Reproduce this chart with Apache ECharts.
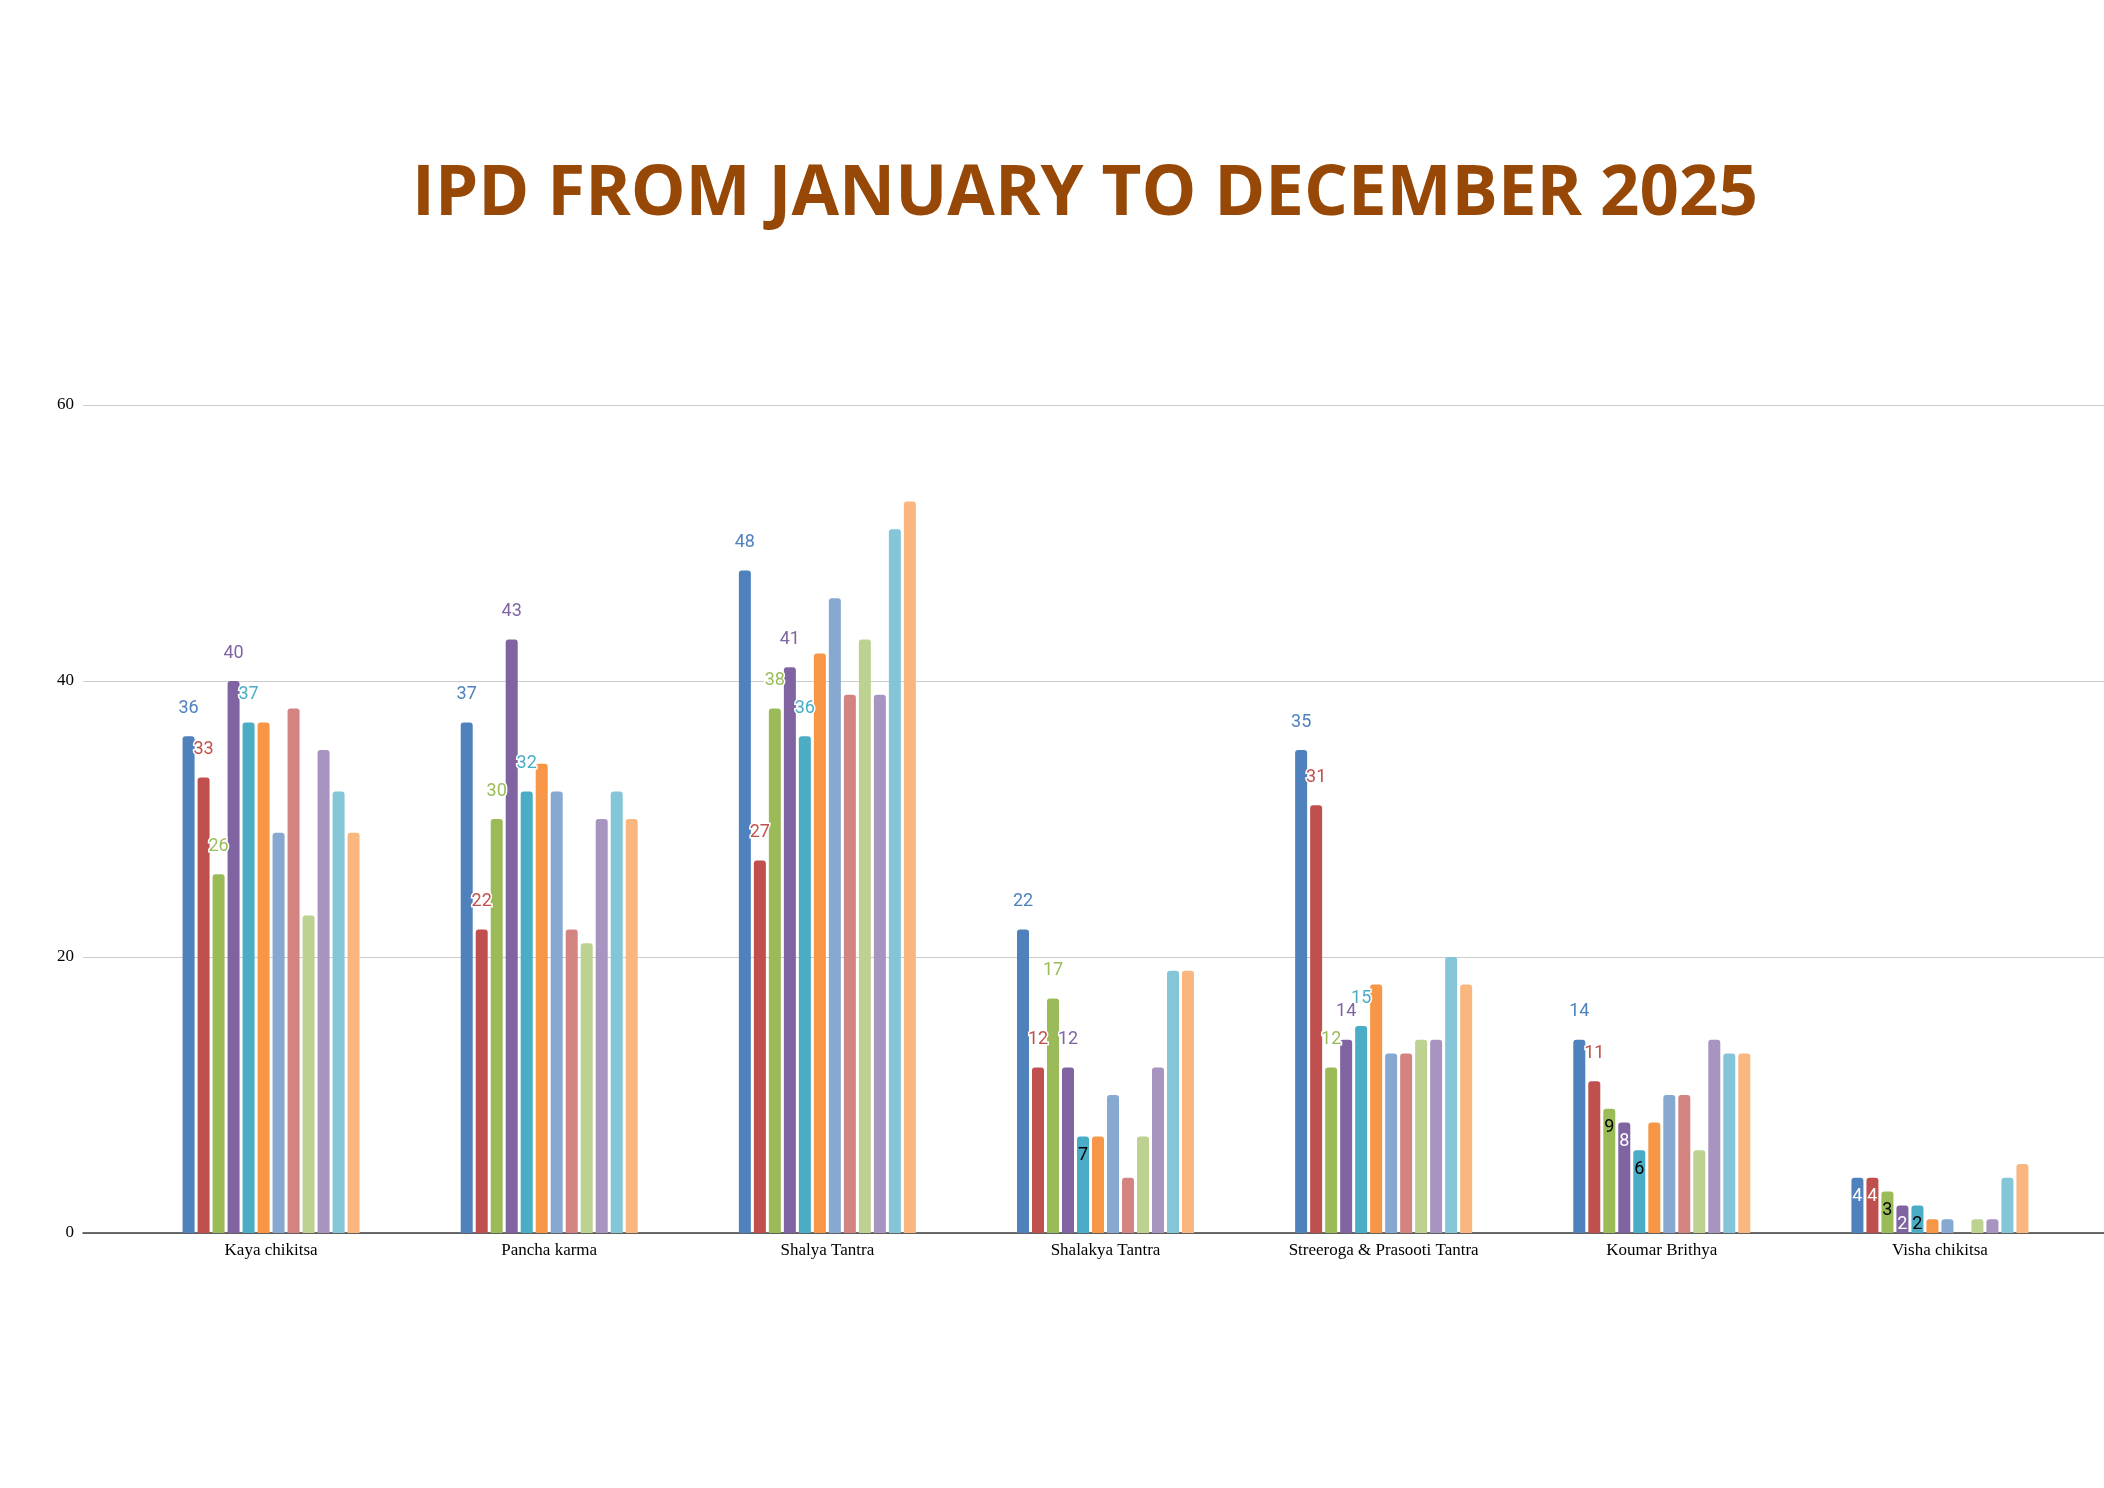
<!DOCTYPE html>
<html>
<head>
<meta charset="utf-8">
<title>IPD 2025</title>
<script src="https://cdn.jsdelivr.net/npm/echarts@6/dist/echarts.min.js"></script>
<style>
  html, body { margin: 0; padding: 0; background: #fff; }
  #chart { width: 2104px; height: 1488px; }
</style>
</head>
<body>
<div id="chart"></div>
<script>
var departments = ["Kaya chikitsa", "Pancha karma", "Shalya Tantra", "Shalakya Tantra",
  "Streeroga & Prasooti Tantra", "Koumar Brithya", "Visha chikitsa"];
var months = ["January", "February", "March", "April", "May", "June",
  "July", "August", "September", "October", "November", "December"];

// patients per department, January..December
var kayaChikitsa = [36, 33, 26, 40, 37, 37, 29, 38, 23, 35, 32, 29];
var panchaKarma = [37, 22, 30, 43, 32, 34, 32, 22, 21, 30, 32, 30];
var shalyaTantra = [48, 27, 38, 41, 36, 42, 46, 39, 43, 39, 51, 53];
var shalakyaTantra = [22, 12, 17, 12, 7, 7, 10, 4, 7, 12, 19, 19];
var streeroga = [35, 31, 12, 14, 15, 18, 13, 13, 14, 14, 20, 18];
var koumarBrithya = [14, 11, 9, 8, 6, 8, 10, 10, 6, 14, 13, 13];
var vishaChikitsa = [4, 4, 3, 2, 2, 1, 1, 0, 1, 1, 4, 5];

var yTicks = [0, 20, 40, 60];

var colors = ["#4F81BD", "#C0504D", "#9BBB59", "#8064A2", "#4BACC6", "#F79646",
  "#86A8D1", "#D38481", "#BDD190", "#A794C0", "#84C5D7", "#F9B77F"];
var insideColors = ["#ffffff", "#ffffff", "#000000", "#ffffff", "#000000"]; //小数值标签放在柱内
var labeledCount = 5; //只有前5个月显示数值

var rows = [kayaChikitsa, panchaKarma, shalyaTantra, shalakyaTantra, streeroga, koumarBrithya, vishaChikitsa];

var chart = echarts.init(document.getElementById("chart"));

// one series per month, taken from each department row
function buildSeries () {
  var list = [];
  for (var m = 0; m < months.length; m++) {
    var data = [];
    for (var d = 0; d < rows.length; d++) {
      var v = rows[d][m];
      if (m < labeledCount && v < 10) {
        data.push({
          value: v,
          label: { position: "insideTop", distance: 10, color: insideColors[m], textBorderWidth: 0 }
        });
      } else {
        data.push(v);
      }
    }
    list.push({
      name: months[m],
      type: "bar",
      xAxisIndex: 1,
      yAxisIndex: 1,
      barWidth: 12,
      barGap: "25%",
      data: data,
      itemStyle: { color: colors[m], borderRadius: [3, 3, 0, 0] },
      label: {
        show: m < labeledCount,
        position: "top",
        distance: 19,
        color: colors[m],
        fontFamily: "Roboto",
        fontSize: 18,
        textBorderColor: "#ffffff",
        textBorderWidth: 3
      }
    });
  }
  return list;
}

var option = {
  backgroundColor: "#ffffff",
  animation: false,
  title: {
    text: "IPD FROM JANUARY TO DECEMBER 2025",
    left: 1080,
    textAlign: "center",
    top: 150,
    textStyle: {
      fontFamily: "Open Sans",
      fontWeight: "bold",
      fontSize: 69,
      lineHeight: 80,
      color: "#974806"
    }
  },
  grid: [
    { left: 83, right: 0, top: 405, bottom: 255 },   // gridlines + baseline
    { left: 132, right: 25, top: 405, bottom: 255 }  // bars
  ],
  xAxis: [
    {
      type: "value", gridIndex: 0, min: 0, max: 1,
      axisLine: { show: true, lineStyle: { color: "#3c3c3c", width: 1.5 } },
      axisTick: { show: false }, axisLabel: { show: false }, splitLine: { show: false }
    },
    {
      type: "category", gridIndex: 1, data: departments,
      axisLine: { show: false }, axisTick: { show: false },
      axisLabel: { margin: 9, fontFamily: "Liberation Serif", fontSize: 17, color: "#000" }
    }
  ],
  yAxis: [
    {
      type: "value", gridIndex: 0, min: yTicks[0], max: yTicks[yTicks.length - 1], interval: 20,
      axisLine: { show: false }, axisTick: { show: false },
      axisLabel: { margin: 9, fontFamily: "Liberation Serif", fontSize: 17, color: "#000" },
      splitLine: { lineStyle: { color: "#cccccc", width: 1.2 } }
    },
    {
      type: "value", gridIndex: 1, min: yTicks[0], max: yTicks[yTicks.length - 1], interval: 20,
      show: false, splitLine: { show: false }
    }
  ],
  series: buildSeries()
};

chart.setOption(option);
</script>
</body>
</html>
